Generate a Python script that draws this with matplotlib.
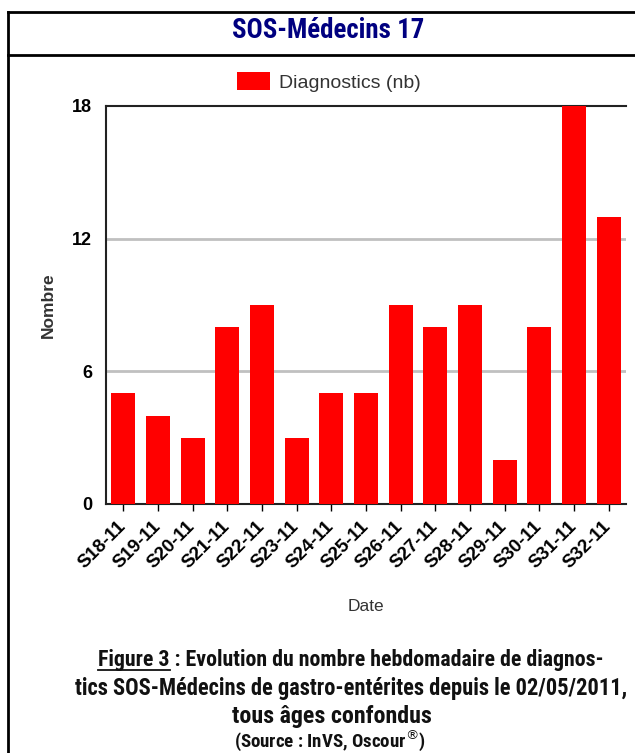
import matplotlib
matplotlib.use("Agg")
import matplotlib.pyplot as plt
from matplotlib.lines import Line2D
from matplotlib import font_manager as fm

categories = ["S18-11", "S19-11", "S20-11", "S21-11", "S22-11", "S23-11", "S24-11",
              "S25-11", "S26-11", "S27-11", "S28-11", "S29-11", "S30-11", "S31-11", "S32-11"]
values = [5, 4, 3, 8, 9, 3, 5, 5, 9, 8, 9, 2, 8, 18, 13]
yticks = [0, 6, 12, 18]

W, H = 635, 753
fig = plt.figure(figsize=(W / 100, H / 100), dpi=100)
fig.patch.set_facecolor("white")

# choose a condensed family if available
names = {f.name for f in fm.fontManager.ttflist}
narrow_fam, narrow_stretch = "Roboto", "normal"
for cand in ["Liberation Sans Narrow", "Roboto Condensed", "Open Sans Condensed", "DejaVu Sans Condensed"]:
    if cand in names:
        narrow_fam = cand
        break
else:
    for f in fm.fontManager.ttflist:
        if f.name == "DejaVu Sans" and "Condensed" in f.fname:
            narrow_fam, narrow_stretch = "DejaVu Sans", "condensed"
            break
narrow = [narrow_fam, "DejaVu Sans"]
arial = ["Liberation Sans", "DejaVu Sans"]

ax = fig.add_axes([106 / W, 1 - 504 / H, (626 - 106) / W, (504 - 106) / H])
x = list(range(len(categories)))
ax.bar(x, values, width=0.7, color="#ff0000", label="Diagnostics (nb)", zorder=3)
ax.set_xlim(-0.5, len(categories) - 0.5)
ax.set_ylim(0, 18)
ax.set_yticks(yticks)
ax.set_yticklabels([str(v) for v in yticks], fontsize=13, fontweight="bold", family=arial)
for v in [6, 12]:
    ax.axhline(v, color="#c0c0c0", lw=2, zorder=1)
ax.set_xticks(x)
ax.set_xticklabels(categories, rotation=45, ha="right", va="center", rotation_mode="anchor",
                   fontsize=13.5, family=arial, fontweight="bold")
ax.tick_params(axis="x", length=5, width=1, color="black", pad=9)
ax.tick_params(axis="y", length=0, pad=10)
ax.spines["right"].set_visible(False)
for s in ["left", "bottom", "top"]:
    ax.spines[s].set_linewidth(1.5)
    ax.spines[s].set_color("#222222")
ax.set_xlabel("Date", fontsize=12.5, color="#333333", family=arial, labelpad=20)
ax.set_ylabel("Nombre", fontsize=12.5, color="#333333", family=arial, fontweight="bold", labelpad=12)

fig.legend(loc="center", bbox_to_anchor=(329 / W, 1 - 82 / H), frameon=False,
           prop={"family": arial, "size": 14}, handlelength=1.7, handleheight=1.05,
           handletextpad=0.45, labelcolor="#333333")

# frame lines
fig.add_artist(Line2D([8 / W, 1], [1 - 12 / H, 1 - 12 / H], color="black", lw=2, transform=fig.transFigure))
fig.add_artist(Line2D([8 / W, 1], [1 - 55 / H, 1 - 55 / H], color="black", lw=2, transform=fig.transFigure))
fig.add_artist(Line2D([8 / W, 8 / W], [1 - 12 / H, 0], color="black", lw=2, transform=fig.transFigure))

fig.canvas.draw()
r = fig.canvas.get_renderer()


def fitted_text(xc, yc, s, target_w, **kw):
    t = fig.text(xc / W, 1 - yc / H, s, ha="center", va="center", fontsize=10,
                 fontstretch=narrow_stretch, **kw)
    w = t.get_window_extent(r).width
    t.set_fontsize(10 * target_w / w)
    return t


fitted_text(328, 31, "SOS-Médecins 17", 193, color="#000080", family=narrow, fontweight="bold")

cap = dict(family=narrow, fontweight="bold", color="#111111")
t1 = fitted_text(351, 660, "Figure 3 : Evolution du nombre hebdomadaire de diagnos-", 508, **cap)
fitted_text(351, 689, "tics SOS-Médecins de gastro-entérites depuis le 02/05/2011,", 557, **cap)
fitted_text(332, 717, "tous âges confondus", 200, **cap)
fitted_text(330, 740, r"(Source : InVS, Oscour$^{®}$)", 193, **cap)

# underline "Figure 3"
fig.canvas.draw()
bb = t1.get_window_extent(r)
tmp = fig.text(0, 0, "Figure 3", fontsize=t1.get_fontsize(), fontstretch=narrow_stretch, **cap)
wb = tmp.get_window_extent(r)
tmp.remove()
x0 = bb.x0 / W
x1 = (bb.x0 + wb.width) / W
yu = (bb.y0 + 1) / H
fig.add_artist(Line2D([x0, x1], [yu, yu], color="#111111", lw=1.3, transform=fig.transFigure))

fig.savefig("out.png", dpi=100)
